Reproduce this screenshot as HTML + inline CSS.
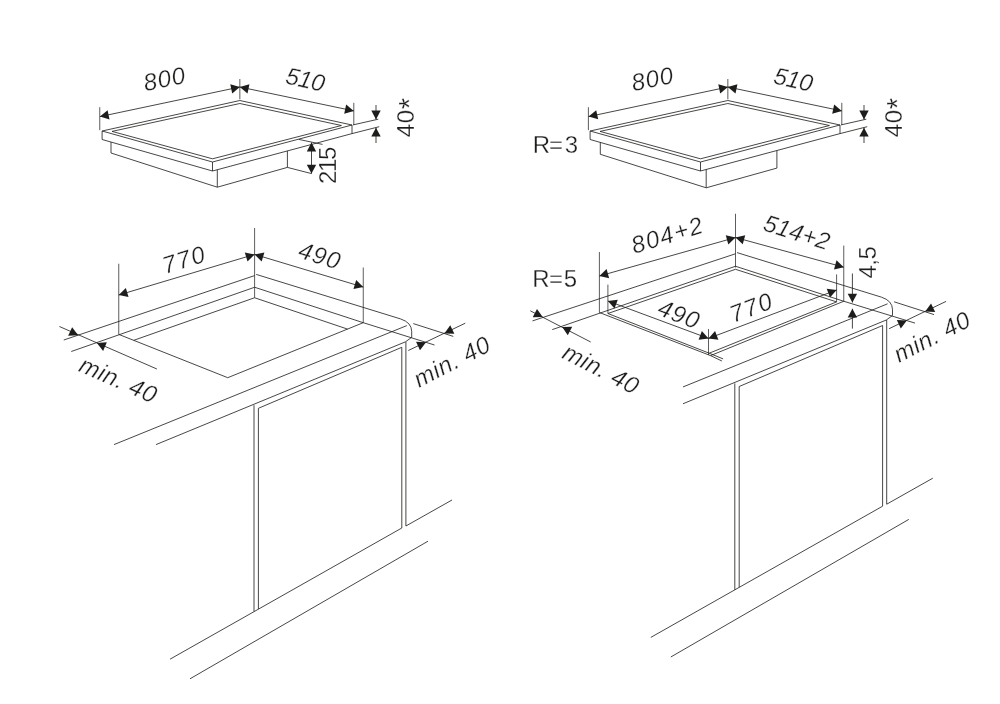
<!DOCTYPE html>
<html><head><meta charset="utf-8"><title>Installation dimensions</title>
<style>
html,body{margin:0;padding:0;background:#fff}
svg{display:block}
svg line,svg polyline,svg polygon,svg path{fill:none;stroke:#1d1d1b;stroke-width:0.82;stroke-linejoin:round;stroke-linecap:butt}
svg .th{stroke-width:0.72}
svg polygon.ar{fill:#1d1d1b;stroke:none}
svg text{font-family:"Liberation Sans",sans-serif;fill:#1d1d1b;stroke:#fff;stroke-width:0.28}
svg{will-change:transform}
</style></head><body>
<svg width="1000" height="704" viewBox="0 0 1000 704">
<rect width="1000" height="704" fill="#fff" stroke="none"/>
<polygon points="102.10,131.00 239.85,100.50 352.00,125.00 212.50,162.00"/>
<polygon points="112.00,131.40 239.85,103.50 341.40,125.50 212.50,158.80"/>
<polyline points="102.10,131.00 102.10,139.50 212.50,171.00 352.00,133.60 352.00,125.00"/>
<line x1="212.50" y1="162.00" x2="212.50" y2="171.00"/>
<polyline points="111.00,142.04 111.00,153.00 217.30,187.20 287.40,167.40 287.40,150.93"/>
<line x1="217.30" y1="169.71" x2="217.30" y2="187.20"/>
<line x1="99.75" y1="107.20" x2="99.75" y2="130.20" class="th"/>
<line x1="239.85" y1="79.00" x2="239.85" y2="99.30" class="th"/>
<line x1="353.80" y1="102.80" x2="353.80" y2="124.80" class="th"/>
<line x1="99.95" y1="116.60" x2="239.85" y2="87.00"/>
<polygon class="ar" points="99.95,116.60 109.53,119.38 107.59,110.18"/>
<polygon class="ar" points="239.85,87.00 230.27,84.22 232.21,93.42"/>
<line x1="239.85" y1="87.00" x2="353.80" y2="110.90"/>
<polygon class="ar" points="239.85,87.00 247.50,93.41 249.43,84.21"/>
<polygon class="ar" points="353.80,110.90 346.15,104.49 344.22,113.69"/>
<line x1="353.00" y1="124.90" x2="378.30" y2="119.20"/>
<line x1="352.00" y1="133.60" x2="379.20" y2="126.70"/>
<line x1="376.00" y1="105.00" x2="376.00" y2="119.40"/>
<polygon class="ar" points="376.00,119.40 380.70,110.60 371.30,110.60"/>
<line x1="376.00" y1="127.80" x2="376.00" y2="143.00"/>
<polygon class="ar" points="376.00,127.80 371.30,136.60 380.70,136.60"/>
<text transform="translate(145.18,91.17) rotate(-11.50)" font-size="24" letter-spacing="1.0" font-style="italic">800</text>
<text transform="translate(284.42,83.31) rotate(12.50)" font-size="24" letter-spacing="-0.4" font-style="italic">510</text>
<text transform="translate(413.95,137.30) rotate(-90.00)" font-size="24" letter-spacing="0.7">40<tspan font-size="29.5" dy="4.7">*</tspan></text>
<line x1="287.40" y1="167.40" x2="311.50" y2="173.60"/>
<line x1="298.75" y1="139.40" x2="322.50" y2="144.40"/>
<line x1="311.50" y1="142.60" x2="311.50" y2="173.60"/>
<polygon class="ar" points="311.50,142.60 306.80,151.40 316.20,151.40"/>
<polygon class="ar" points="311.50,173.60 316.20,164.80 306.80,164.80"/>
<text transform="translate(336.45,183.90) rotate(-90.00)" font-size="24" letter-spacing="-1.4">215</text>
<g transform="translate(488,0)">
<polygon points="102.10,131.00 239.85,100.50 352.00,125.00 212.50,162.00"/>
<polygon points="112.00,131.40 239.85,103.50 341.40,125.50 212.50,158.80"/>
<polyline points="102.10,131.00 102.10,139.50 212.50,171.00 352.00,133.60 352.00,125.00"/>
<line x1="212.50" y1="162.00" x2="212.50" y2="171.00"/>
<polyline points="112.30,142.41 112.30,154.30 218.20,187.80 288.90,168.10 288.90,150.52"/>
<line x1="218.20" y1="169.47" x2="218.20" y2="187.80"/>
<line x1="100.40" y1="107.20" x2="100.40" y2="130.20" class="th"/>
<line x1="239.85" y1="79.00" x2="239.85" y2="99.30" class="th"/>
<line x1="353.80" y1="102.80" x2="353.80" y2="124.80" class="th"/>
<line x1="100.60" y1="116.60" x2="239.85" y2="87.00"/>
<polygon class="ar" points="100.60,116.60 110.18,119.37 108.23,110.17"/>
<polygon class="ar" points="239.85,87.00 230.27,84.23 232.22,93.43"/>
<line x1="239.85" y1="87.00" x2="353.80" y2="110.90"/>
<polygon class="ar" points="239.85,87.00 247.50,93.41 249.43,84.21"/>
<polygon class="ar" points="353.80,110.90 346.15,104.49 344.22,113.69"/>
<line x1="353.00" y1="124.90" x2="378.30" y2="119.20"/>
<line x1="352.00" y1="133.60" x2="379.20" y2="126.70"/>
<line x1="376.00" y1="105.00" x2="376.00" y2="119.40"/>
<polygon class="ar" points="376.00,119.40 380.70,110.60 371.30,110.60"/>
<line x1="376.00" y1="127.80" x2="376.00" y2="143.00"/>
<polygon class="ar" points="376.00,127.80 371.30,136.60 380.70,136.60"/>
<text transform="translate(145.18,91.17) rotate(-11.50)" font-size="24" letter-spacing="1.0" font-style="italic">800</text>
<text transform="translate(284.42,83.31) rotate(12.50)" font-size="24" letter-spacing="-0.4" font-style="italic">510</text>
<text transform="translate(413.95,137.30) rotate(-90.00)" font-size="24" letter-spacing="0.7">40<tspan font-size="29.5" dy="4.7">*</tspan></text>
</g>
<text x="532.75 548.90 564.85" y="153.05" font-size="24">R=3</text>
<line x1="63.75" y1="340.00" x2="254.60" y2="275.60"/>
<path d="M256.2,274.4 L400.5,318.9 Q411.7,322.5 411.7,331.5 L411.7,337.3"/>
<line x1="114.00" y1="444.60" x2="406.80" y2="325.60"/>
<line x1="156.00" y1="444.60" x2="405.50" y2="341.80"/>
<line x1="405.50" y1="341.80" x2="411.70" y2="337.30"/>
<line x1="405.90" y1="341.80" x2="405.90" y2="526.00"/>
<line x1="405.90" y1="526.00" x2="452.00" y2="500.00"/>
<polyline points="258.40,609.00 258.40,408.30 401.80,347.30 401.80,528.00"/>
<line x1="254.00" y1="405.20" x2="254.00" y2="611.50"/>
<line x1="170.00" y1="659.20" x2="401.80" y2="528.00"/>
<line x1="190.00" y1="678.80" x2="428.00" y2="541.20"/>
<line x1="71.25" y1="351.50" x2="254.60" y2="287.25"/>
<line x1="254.60" y1="287.25" x2="363.25" y2="322.70"/>
<line x1="363.25" y1="322.70" x2="434.50" y2="345.00"/>
<polyline points="118.75,334.40 227.75,377.70 363.25,322.70"/>
<polyline points="133.75,340.30 254.60,297.75 347.50,329.10"/>
<line x1="118.75" y1="263.75" x2="118.75" y2="334.40" class="th"/>
<line x1="254.60" y1="228.00" x2="254.60" y2="297.75" class="th"/>
<line x1="363.25" y1="267.50" x2="363.25" y2="322.70" class="th"/>
<line x1="118.75" y1="295.00" x2="254.60" y2="254.40"/>
<polygon class="ar" points="118.75,295.00 128.53,296.98 125.84,287.98"/>
<polygon class="ar" points="254.60,254.40 244.82,252.42 247.51,261.42"/>
<line x1="254.60" y1="254.40" x2="363.25" y2="287.10"/>
<polygon class="ar" points="254.60,254.40 261.67,261.44 264.38,252.44"/>
<polygon class="ar" points="363.25,287.10 356.18,280.06 353.47,289.06"/>
<text transform="translate(165.27,273.95) rotate(-17.00)" font-size="24" letter-spacing="1.6" font-style="italic">770</text>
<text transform="translate(296.99,257.30) rotate(17.00)" font-size="24" letter-spacing="1.0" font-style="italic">490</text>
<line x1="413.30" y1="323.60" x2="453.25" y2="336.40"/>
<line x1="408.30" y1="350.50" x2="465.25" y2="323.20"/>
<polygon class="ar" points="426.00,342.30 416.04,341.73 419.99,350.26"/>
<polygon class="ar" points="444.40,333.40 454.37,333.75 450.24,325.31"/>
<line x1="59.40" y1="326.50" x2="156.90" y2="369.00"/>
<polygon class="ar" points="78.10,335.25 72.12,327.26 68.14,335.78"/>
<polygon class="ar" points="96.90,343.10 103.12,350.90 106.84,342.27"/>
<text transform="translate(77.39,370.66) rotate(23.70)" font-size="24" letter-spacing="0.5" font-style="italic">min. 40</text>
<text transform="translate(419.07,388.08) rotate(-27.50)" font-size="24" letter-spacing="0.6" font-style="italic">min. 40</text>
<g transform="translate(480.8,-21.8)">
<line x1="51.70" y1="342.70" x2="254.60" y2="275.60"/>
<path d="M256.2,274.4 L400.5,318.9 Q411.7,322.5 411.7,331.5 L411.7,337.3"/>
<line x1="202.20" y1="408.76" x2="406.80" y2="325.60"/>
<line x1="202.20" y1="425.56" x2="405.50" y2="341.80"/>
<line x1="405.50" y1="341.80" x2="411.70" y2="337.30"/>
<line x1="405.90" y1="341.80" x2="405.90" y2="526.00"/>
<line x1="405.90" y1="526.00" x2="452.00" y2="500.00"/>
<polyline points="258.40,609.00 258.40,408.30 401.80,347.30 401.80,528.00"/>
<line x1="254.00" y1="405.20" x2="254.00" y2="611.50"/>
<line x1="170.00" y1="659.20" x2="401.80" y2="528.00"/>
<line x1="190.00" y1="678.80" x2="428.00" y2="541.20"/>
<line x1="413.30" y1="323.60" x2="453.25" y2="336.40"/>
<line x1="408.30" y1="350.50" x2="465.25" y2="323.20"/>
<polygon class="ar" points="426.00,342.30 416.04,341.73 419.99,350.26"/>
<polygon class="ar" points="444.40,333.40 454.37,333.75 450.24,325.31"/>
</g>
<line x1="530.30" y1="310.80" x2="590.70" y2="342.00"/>
<polygon class="ar" points="542.70,317.10 536.98,308.92 532.73,317.30"/>
<polygon class="ar" points="562.20,326.90 567.78,335.17 572.18,326.87"/>
<text transform="translate(560.74,357.38) rotate(27.20)" font-size="24" letter-spacing="0.5" font-style="italic">min. 40</text>
<text transform="translate(898.93,363.01) rotate(-27.20)" font-size="24" letter-spacing="0.6" font-style="italic">min. 40</text>
<line x1="552.25" y1="329.60" x2="735.50" y2="266.25"/>
<line x1="735.50" y1="266.25" x2="843.75" y2="301.25"/>
<line x1="843.75" y1="301.25" x2="915.00" y2="323.10"/>
<polyline points="607.90,313.50 735.50,269.30 836.60,301.90"/>
<polyline points="599.40,312.50 710.50,355.60 843.75,301.25"/>
<polyline points="607.90,313.50 709.20,353.20 836.60,301.90"/>
<line x1="709.20" y1="353.20" x2="723.10" y2="358.90"/>
<line x1="710.50" y1="355.60" x2="721.90" y2="361.00"/>
<line x1="599.40" y1="252.00" x2="599.40" y2="312.50" class="th"/>
<line x1="607.90" y1="284.60" x2="607.90" y2="313.50" class="th"/>
<line x1="735.50" y1="213.75" x2="735.50" y2="267.50" class="th"/>
<line x1="843.75" y1="245.60" x2="843.75" y2="301.25" class="th"/>
<line x1="836.60" y1="274.40" x2="836.60" y2="301.90" class="th"/>
<line x1="708.50" y1="329.00" x2="708.50" y2="355.00" class="th"/>
<line x1="599.40" y1="276.00" x2="735.50" y2="237.50"/>
<polygon class="ar" points="599.40,276.00 609.15,278.13 606.59,269.08"/>
<polygon class="ar" points="735.50,237.50 725.75,235.37 728.31,244.42"/>
<line x1="735.50" y1="237.50" x2="843.75" y2="267.20"/>
<polygon class="ar" points="735.50,237.50 742.74,244.36 745.23,235.30"/>
<polygon class="ar" points="843.75,267.20 836.51,260.34 834.02,269.40"/>
<line x1="607.90" y1="301.00" x2="708.50" y2="338.40"/>
<polygon class="ar" points="607.90,301.00 614.51,308.47 617.79,299.66"/>
<polygon class="ar" points="708.50,338.40 701.89,330.93 698.61,339.74"/>
<line x1="708.50" y1="338.40" x2="836.60" y2="290.00"/>
<polygon class="ar" points="708.50,338.40 718.39,339.69 715.07,330.89"/>
<polygon class="ar" points="836.60,290.00 826.71,288.71 830.03,297.51"/>
<line x1="852.40" y1="273.50" x2="852.40" y2="302.50"/>
<polygon class="ar" points="852.40,302.50 857.10,293.70 847.70,293.70"/>
<line x1="852.40" y1="308.75" x2="852.40" y2="328.60"/>
<polygon class="ar" points="852.40,308.75 847.70,317.55 857.10,317.55"/>
<text transform="translate(634.23,253.99) rotate(-17.30)" font-size="24" letter-spacing="1.5" font-style="italic">804+2</text>
<text transform="translate(761.97,229.92) rotate(17.50)" font-size="24" letter-spacing="0.1" font-style="italic">514+2</text>
<text transform="translate(656.17,314.32) rotate(21.00)" font-size="24" letter-spacing="1.0" font-style="italic">490</text>
<text transform="translate(733.61,323.09) rotate(-21.00)" font-size="24" letter-spacing="1.6" font-style="italic">770</text>
<text transform="translate(875.70,278.55) rotate(-90.00)" font-size="24" letter-spacing="-0.5">4,5</text>
<text x="532.25 548.90 563.85" y="287.15" font-size="24">R=5</text>
</svg>
</body></html>
